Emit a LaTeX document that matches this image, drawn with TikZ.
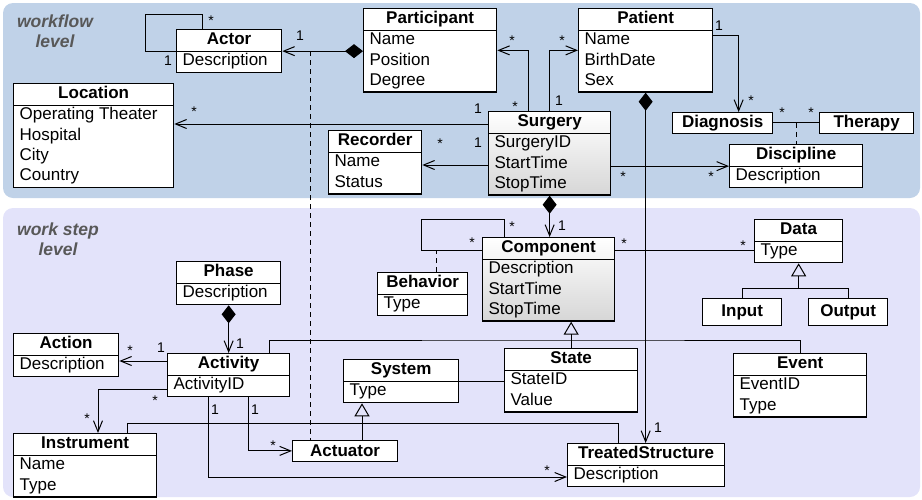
\documentclass[tikz,border=0pt]{standalone}
\usepackage{fontspec}
\setmainfont{Liberation Sans}
\usepackage{tikz}
\usetikzlibrary{positioning,arrows.meta,calc,shapes.multipart}
\definecolor{wfblue}{RGB}{192,210,232}
\definecolor{wslilac}{RGB}{227,227,250}
\definecolor{lvlgray}{RGB}{88,88,88}
\newcommand{\umlcls}[2]{\strut\textbf{#1}\nodepart{second}\strut#2\strut}

\begin{document}
\begin{tikzpicture}[
  x=1pt, y=-1pt,
  font=\fontsize{17}{20.2}\selectfont,
  lvl/.style={font=\fontsize{17.5}{19.5}\selectfont\bfseries\itshape, text=lvlgray,
              align=center, inner sep=0pt},
  uml/.style={draw, line width=1.3pt, fill=white, rectangle split, rectangle split parts=2,
              rectangle split part align={center,left}, align=left,
              inner xsep=6pt, inner ysep=0pt, anchor=north west},
  umlg/.style={uml, top color=white, bottom color=black!16},
  clsone/.style={draw, line width=1.3pt, fill=white, font=\fontsize{17}{20.2}\selectfont\bfseries,
                 inner sep=0pt, minimum height=20.5pt, anchor=north west},
  asc/.style={line width=1pt},
  arr/.style={asc, -{Straight Barb[length=11pt,width=9pt]}},
  comparr/.style={asc, {Diamond[length=18pt,width=14pt]}-{Straight Barb[length=11pt,width=9pt]}},
  genarr/.style={asc, -{Triangle[open,length=13pt,width=15pt]}},
  deparr/.style={asc, dash pattern=on 5pt off 4pt},
  mult/.style={font=\fontsize{14}{16}\selectfont, anchor=base, inner sep=0pt},
]
\useasboundingbox (0,0) rectangle (922,499);
\fill[wfblue, rounded corners=10pt] (3,3) rectangle (920,198);
\fill[wslilac, rounded corners=10pt] (3,208) rectangle (920,497);
\node[lvl] (wflevel) at (55,31) {workflow\\level};
\node[lvl] (wslevel) at (58,239) {work step\\level};

% workflow level
\node[uml, minimum width=105pt] (actor) at (176,29) {\umlcls{Actor}{Description}};
\node[uml, minimum width=160pt] (location) at (13,83)
  {\umlcls{Location}{Operating Theater\\Hospital\\City\\Country}};
\node[uml, minimum width=133pt] (participant) at (363,8) {\umlcls{Participant}{Name\\Position\\Degree}};
\node[uml, minimum width=134pt] (patient) at (578,8) {\umlcls{Patient}{Name\\BirthDate\\Sex}};
\node[umlg, minimum width=122pt] (surgery) at (488,111) {\umlcls{Surgery}{SurgeryID\\StartTime\\StopTime}};
\node[uml, minimum width=93pt] (recorder) at (328,130) {\umlcls{Recorder}{Name\\Status}};
\node[clsone, minimum width=100pt] (diagnosis) at (672,112) {Diagnosis};
\node[clsone, minimum width=94pt] (therapy) at (819,112) {Therapy};
\node[uml, minimum width=133pt] (discipline) at (729,144) {\umlcls{Discipline}{Description}};

% work step level
\node[umlg, minimum width=132pt] (component) at (482,237)
  {\umlcls{Component}{Description\\StartTime\\StopTime}};
\node[uml, minimum width=90pt] (behavior) at (377,272) {\umlcls{Behavior}{Type}};
\node[uml, minimum width=88pt] (data) at (754,219) {\umlcls{Data}{Type}};
\node[clsone, minimum width=79pt, minimum height=27pt] (input) at (702,298) {Input};
\node[clsone, minimum width=79pt, minimum height=27pt] (output) at (808,298) {Output};
\node[uml, minimum width=104pt] (phase) at (176,261) {\umlcls{Phase}{Description}};
\node[uml, minimum width=105pt] (action) at (13,333) {\umlcls{Action}{Description}};
\node[uml, minimum width=122pt] (activity) at (167,353) {\umlcls{Activity}{ActivityID}};
\node[uml, minimum width=115pt] (system) at (343,359) {\umlcls{System}{Type}};
\node[uml, minimum width=133pt] (state) at (504,348) {\umlcls{State}{StateID\\Value}};
\node[uml, minimum width=133pt] (event) at (733,353) {\umlcls{Event}{EventID\\Type}};
\node[uml, minimum width=143pt] (instrument) at (13,433) {\umlcls{Instrument}{Name\\Type}};
\node[clsone, minimum width=105pt] (actuator) at (292,440) {Actuator};
\node[uml, minimum width=157pt] (treated) at (567,443) {\umlcls{TreatedStructure}{Description}};

% associations
\draw[asc] ($(actor.north west)+(26,0)$) |- ($(actor.text split west)+(-31,-37)$) |- (actor.text split west);
\draw[comparr] (participant.west |- actor.text split east) -- (actor.text split east);
\coordinate (dashfoot) at ($(actuator.north west)+(18,0)$);
\draw[deparr] (dashfoot |- actor.text split east) -- (dashfoot);
\draw[arr] ($(surgery.north west)+(0,13)$) -- ($(location.north east)+(0,41)$);
\draw[arr] ($(surgery.north west)+(40,0)$) |- (participant.east);
\draw[arr] (surgery.north) |- (patient.west);
\draw[arr] ($(patient.north east)+(0,27)$) -| ($(diagnosis.north)+(16,0)$);
\draw[asc] (diagnosis.east) -- (therapy.west);
\draw[deparr] ($(diagnosis.east)!0.5!(therapy.west)$) -- (discipline.north);
\draw[arr] (surgery.east |- discipline.text split west) -- (discipline.text split west);
\draw[arr] ($(surgery.north west)+(0,54)$) -- ($(recorder.north east)+(0,35)$);
\draw[comparr] (surgery.south) -- (surgery.south |- component.north);
\draw[comparr] (patient.south) -- (patient.south |- treated.north);
\draw[asc] ($(component.north west)+(22,0)$) |- ($(component.north west)+(-61,-18)$)
  |- ($(component.north west)+(0,13)$);
\draw[deparr] ($(behavior.north west)+(59,0)$) -- ++(0,-22);
\draw[asc] ($(component.north east)+(0,13)$) -- ($(data.north west)+(0,31)$);
\coordinate (dataj) at ($(data.south)+(0,25)$);
\draw[asc] (input.north) |- (dataj) -| (output.north);
\draw[genarr] (dataj) -- (data.south);
\coordinate (compj) at ($(state.north)+(0,-8)$);
\draw[asc] ($(activity.north west)+(102,0)$) |- (compj) -| (event.north);
\draw[genarr] (state.north) -- (state.north |- component.south);
\coordinate (actg) at ($(actuator.north west)+(70,0)$);
\draw[genarr] (actg) -- (actg |- system.south);
\draw[asc] (system.text split east) -- (system.text split east -| state.west);
\draw[comparr] (phase.south) -- (phase.south |- activity.north);
\draw[arr] ($(activity.north west)+(0,8)$) -- ($(action.north east)+(0,28)$);
\draw[arr] ($(activity.north west)+(0,36)$) -| ($(instrument.north west)+(85,0)$);
\draw[asc] ($(instrument.north west)+(114,0)$) |- ($(treated.north west)+(51,-20)$)
  -- ($(treated.north west)+(51,0)$);
\draw[arr] ($(activity.south west)+(81,0)$) |- (actuator.west);
\draw[arr] ($(activity.south west)+(41,0)$) |- ($(treated.north west)+(0,34)$);

% multiplicities
\node[mult] (m1) at (211,25) {*};
\node[mult] (m2) at (168,65) {1};
\node[mult] (m3) at (300,40) {1};
\node[mult] (m4) at (194,116) {*};
\node[mult] (m5) at (478,113) {1};
\node[mult] (m6) at (512,45) {*};
\node[mult] (m7) at (515,111) {*};
\node[mult] (m8) at (562,45) {*};
\node[mult] (m9) at (559,105) {1};
\node[mult] (m10) at (440,148) {*};
\node[mult] (m11) at (478,147) {1};
\node[mult] (m12) at (719,30) {1};
\node[mult] (m13) at (751,105) {*};
\node[mult] (m14) at (782,117) {*};
\node[mult] (m15) at (811,117) {*};
\node[mult] (m16) at (623,181) {*};
\node[mult] (m17) at (711,181) {*};
\node[mult] (m18) at (562,230) {1};
\node[mult] (m19) at (512,231) {*};
\node[mult] (m20) at (472,247) {*};
\node[mult] (m21) at (624,248) {*};
\node[mult] (m22) at (743,250) {*};
\node[mult] (m23) at (240,348) {1};
\node[mult] (m24) at (130,355) {*};
\node[mult] (m25) at (161,352) {1};
\node[mult] (m26) at (155,405) {*};
\node[mult] (m27) at (87,423) {*};
\node[mult] (m28) at (215,414) {1};
\node[mult] (m29) at (255,414) {1};
\node[mult] (m30) at (273,450) {*};
\node[mult] (m31) at (547,475) {*};
\node[mult] (m32) at (658,432) {1};
\end{tikzpicture}
\end{document}
